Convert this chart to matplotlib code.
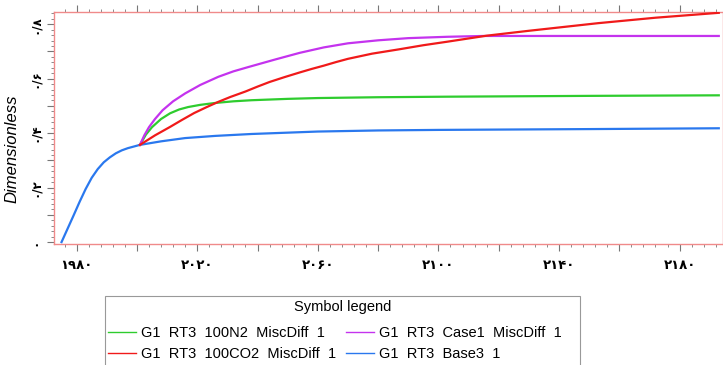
import numpy as np
import matplotlib
matplotlib.use('Agg')
import matplotlib.pyplot as plt
from matplotlib.patches import Rectangle
from matplotlib.ticker import MultipleLocator, FuncFormatter

# Base run, shared by every case up to the injection start
base_years = [1975, 1977, 1979, 1981, 1983, 1985, 1987, 1989, 1991, 1993, 1995,
              1997, 1999, 2001, 2008, 2016, 2026, 2038, 2060, 2080, 2100, 2150, 2193]
base_vals = [0.0, 0.049, 0.098, 0.148, 0.195, 0.236, 0.268, 0.293, 0.311, 0.326,
             0.337, 0.345, 0.351, 0.357, 0.370, 0.382, 0.390, 0.397, 0.406, 0.410,
             0.412, 0.415, 0.418]

n2_years = [2001, 2003, 2005, 2008, 2011, 2014, 2017, 2021, 2026, 2032, 2038,
            2050, 2060, 2080, 2103, 2150, 2193]
n2_vals = [0.357, 0.395, 0.422, 0.452, 0.473, 0.487, 0.496, 0.504, 0.511, 0.517,
           0.521, 0.526, 0.529, 0.532, 0.534, 0.537, 0.539]

co2_years = [2001, 2006, 2011, 2015, 2019, 2023, 2027, 2031, 2036, 2040, 2044,
             2049, 2054, 2058, 2062, 2066, 2070, 2078, 2087, 2095, 2103, 2116,
             2130, 2153, 2172, 2193]
co2_vals = [0.357, 0.392, 0.423, 0.449, 0.474, 0.495, 0.515, 0.533, 0.553, 0.571,
            0.588, 0.606, 0.623, 0.636, 0.648, 0.661, 0.673, 0.692, 0.708, 0.723,
            0.736, 0.758, 0.776, 0.804, 0.824, 0.842]

case1_years = [2001, 2002.5, 2004, 2006, 2008.5, 2012, 2016, 2021, 2027, 2032,
               2037, 2046, 2054, 2062, 2070, 2080, 2090, 2103, 2115, 2150, 2193]
case1_vals = [0.357, 0.393, 0.422, 0.452, 0.484, 0.517, 0.546, 0.577, 0.607, 0.627,
              0.643, 0.671, 0.695, 0.715, 0.730, 0.741, 0.749, 0.754, 0.757, 0.757, 0.757]

labels = ['G1  RT3  100N2  MiscDiff  1',
          'G1  RT3  100CO2  MiscDiff  1',
          'G1  RT3  Case1  MiscDiff  1',
          'G1  RT3  Base3  1']

GREEN = '#2ecc2e'
RED = '#f01a1a'
MAGENTA = '#c433ee'
BLUE = '#2a78ee'
SPINE = '#f08a8a'

FA_DIGITS = str.maketrans('0123456789.', '۰۱۲۳۴۵۶۷۸۹/')


def fa_year(v, pos):
    v = int(round(v))
    return str(v).translate(FA_DIGITS) if v % 40 == 20 else ''


def fa_frac(v, pos):
    if round(v * 10) % 2:
        return ''
    if abs(v) < 1e-9:
        return '۰'
    return ('%.1f' % v).translate(FA_DIGITS)


plt.rcParams['font.family'] = ['Liberation Sans', 'DejaVu Sans']

W, H = 723, 365
fig = plt.figure(figsize=(W / 100, H / 100), dpi=100)
ax = fig.add_axes([54 / W, 1 - 244 / H, 669 / W, 232 / H])

ax.plot(base_years, base_vals, color=BLUE, lw=1.6, zorder=3)
ax.plot(n2_years, n2_vals, color=GREEN, lw=1.6, zorder=3)
ax.plot(co2_years, co2_vals, color=RED, lw=1.6, zorder=4)
ax.plot(case1_years, case1_vals, color=MAGENTA, lw=1.6, zorder=3)

ax.set_xlim(1972.5, 2194.4)
ax.set_ylim(-0.007, 0.845)

ax.xaxis.set_major_locator(MultipleLocator(20))
ax.xaxis.set_minor_locator(MultipleLocator(4))
ax.yaxis.set_major_locator(MultipleLocator(0.1))
ax.yaxis.set_minor_locator(MultipleLocator(0.02))
ax.xaxis.set_major_formatter(FuncFormatter(fa_year))
ax.yaxis.set_major_formatter(FuncFormatter(fa_frac))

ax.tick_params(axis='both', which='both', direction='out', color='#777777',
               top=True, bottom=True, left=True, right=False)
ax.tick_params(which='major', length=5, width=0.8)
ax.tick_params(which='minor', length=2.5, width=0.6)
ax.tick_params(axis='x', pad=6)
ax.tick_params(axis='y', pad=4)
for lab in ax.get_xticklabels():
    lab.set_family('DejaVu Sans')
    lab.set_fontweight('bold')
    lab.set_fontsize(9.5)
for lab in ax.get_yticklabels():
    lab.set_family('DejaVu Sans')
    lab.set_fontweight('bold')
    lab.set_fontsize(8.5)
    lab.set_rotation(90)
    lab.set_va('center')

for s in ax.spines.values():
    s.set_color(SPINE)
    s.set_linewidth(1.0)

ax.set_ylabel('Dimensionless', fontsize=12, style='italic')
ax.yaxis.set_label_coords(-0.051, 0.41)

# legend box, runs past the bottom edge of the figure
fig.patches.append(Rectangle((105 / W, -0.05), 475 / W, 0.05 + 1 - 296 / H,
                             transform=fig.transFigure, fill=False,
                             edgecolor='#999999', lw=0.8))
fig.text(342.5 / W, 1 - 307 / H, 'Symbol legend', ha='center', va='center',
         fontsize=10.5)
handles = [plt.Line2D([], [], color=c, lw=1.0) for c in (GREEN, RED, MAGENTA, BLUE)]
fig.legend(handles, labels, ncol=2, loc='upper left',
           bbox_to_anchor=(108 / W, 1 - 326 / H), fontsize=10.5,
           frameon=False, handlelength=1.9, handletextpad=0.35,
           columnspacing=0.7, borderpad=0.0, labelspacing=0.5, borderaxespad=0)

fig.savefig('out.png', dpi=100)
